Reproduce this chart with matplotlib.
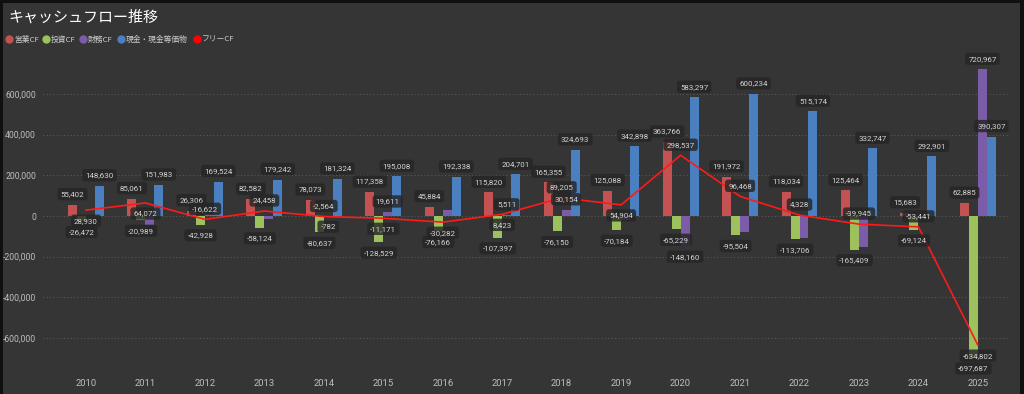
import matplotlib
matplotlib.use("Agg")
import matplotlib.pyplot as plt
from matplotlib.patches import Rectangle
import numpy as np
import warnings
warnings.filterwarnings("ignore")

# ---- data ----
years = ["2010", "2011", "2012", "2013", "2014", "2015", "2016", "2017",
         "2018", "2019", "2020", "2021", "2022", "2023", "2024", "2025"]
op_cf = [55402, 85061, 26306, 82582, 78073, 117358, 45884, 115820,
         165355, 125088, 363766, 191972, 118034, 125464, 15683, 62885]
inv_cf = [-26472, -20989, -42928, -58124, -80637, -128529, -76166, -107397,
          -76150, -70184, -65229, -95504, -113706, -165409, -69124, -697687]
fin_cf = [-1500, -45000, 9000, -14000, -782, 19611, 28000, 5511,
          30154, -20000, -148160, -78000, -110000, -150000, -2000, 720967]
cash = [148630, 151983, 169524, 179242, 181324, 195008, 192338, 204701,
        324693, 342898, 583297, 600234, 515174, 332747, 292901, 390307]
free_cf = [28930, 64072, -16622, 24458, -2564, -11171, -30282, 8423,
           89205, 54904, 298537, 96468, 4328, -39945, -53441, -634802]
series_names = ["営業CF", "投資CF", "財務CF", "現金・現金等価物", "フリーCF"]

# which financial-CF labels are visible in the original
show_fin = [False, False, False, False, True, True, False, True,
            True, False, True, False, False, False, False, True]
# side of the free-CF labels (+1 above, -1 below)
fcf_side = [-1, -1, 1, 1, 1, -1, -1, -1, 1, -1, 1, 1, 1, 1, 1, -1]

# ---- style ----
BG = "#353535"
C_OP = "#C55252"
C_INV = "#9DC15C"
C_FIN = "#7B5CA8"
C_CASH = "#4A80C0"
C_FCF = "#FF1A1A"
TXT = "#D4D4D4"
NUM_FONT = ["Roboto", "DejaVu Sans"]
JP_FONT = ["Noto Sans CJK JP", "DejaVu Sans"]

fig = plt.figure(figsize=(10.24, 3.94), dpi=100, facecolor="#101010")
fig.patches.append(Rectangle((3 / 1024, 0), 1017 / 1024, 391 / 394,
                             transform=fig.transFigure, fc=BG, ec="none", zorder=-10))

ax = fig.add_axes([43 / 1024, 22 / 394, 967 / 1024, 312 / 394])
ax.set_facecolor("none")

x = np.arange(len(years))
w = 0.151
bars = [(op_cf, C_OP, -1.5), (inv_cf, C_INV, -0.5), (fin_cf, C_FIN, 0.5), (cash, C_CASH, 1.5)]
for vals, col, off in bars:
    ax.bar(x + off * w, vals, width=w, color=col, zorder=2)

ax.plot(x, free_cf, color=C_FCF, lw=1.2, zorder=3)

ax.set_xlim(-0.723, 15.54)
ax.set_ylim(-767000, 767000)
yt = [-600000, -400000, -200000, 0, 200000, 400000, 600000]
ax.set_yticks(yt)
ax.set_yticklabels([f"{v:,}" for v in yt], fontfamily=NUM_FONT, fontsize=6.2, color="#BDBDBD")
ax.set_xticks(x)
ax.set_xticklabels(years, fontfamily=NUM_FONT, fontsize=6.8, color="#BDBDBD")
ax.tick_params(length=0)
ax.tick_params(axis="y", pad=5)
ax.tick_params(axis="x", pad=5)
for s in ax.spines.values():
    s.set_visible(False)
for v in yt:
    ax.axhline(v, color="#5E5E5E", lw=0.7, ls=(0, (1, 2.5)), zorder=1)

box = dict(boxstyle="round,pad=0.4,rounding_size=0.35", fc="#262626", ec="none", alpha=0.82)


def label(xp, yv, side, txt):
    ax.annotate(txt, (xp, yv), xytext=(0, 7.6 * side), textcoords="offset points",
                ha="center", va="center", fontsize=5.7, color=TXT, fontfamily=NUM_FONT,
                bbox=box, zorder=6, annotation_clip=False)


for vals, col, off in bars:
    for i, v in enumerate(vals):
        if vals is fin_cf and not show_fin[i]:
            continue
        label(x[i] + off * w, v, 1 if v >= 0 else -1, f"{v:,}")

for i, v in enumerate(free_cf):
    label(x[i], v, fcf_side[i], f"{v:,}")

# ---- title & legend ----
fig.text(8 / 1024, 1 - 17 / 394, "キャッシュフロー推移", fontfamily=JP_FONT, fontsize=10.8,
         color="white", ha="left", va="center")
leg_cols = [C_OP, C_INV, C_FIN, C_CASH, "#FF0000"]
leg_x = [9, 46, 83, 121, 197]
lax = fig.add_axes([0, 0, 1, 1], facecolor="none")
lax.set_xlim(0, 1024)
lax.set_ylim(394, 0)
lax.axis("off")
for name, col, lx in zip(series_names, leg_cols, leg_x):
    lax.plot([lx], [39], marker="o", ms=6.0, color=col, mec="none")
    lax.text(lx + 5, 39.5, name, fontfamily=JP_FONT, fontsize=5.6, color="#CFCFCF",
             ha="left", va="center")

fig.savefig("out.png", dpi=100, facecolor=fig.get_facecolor())
